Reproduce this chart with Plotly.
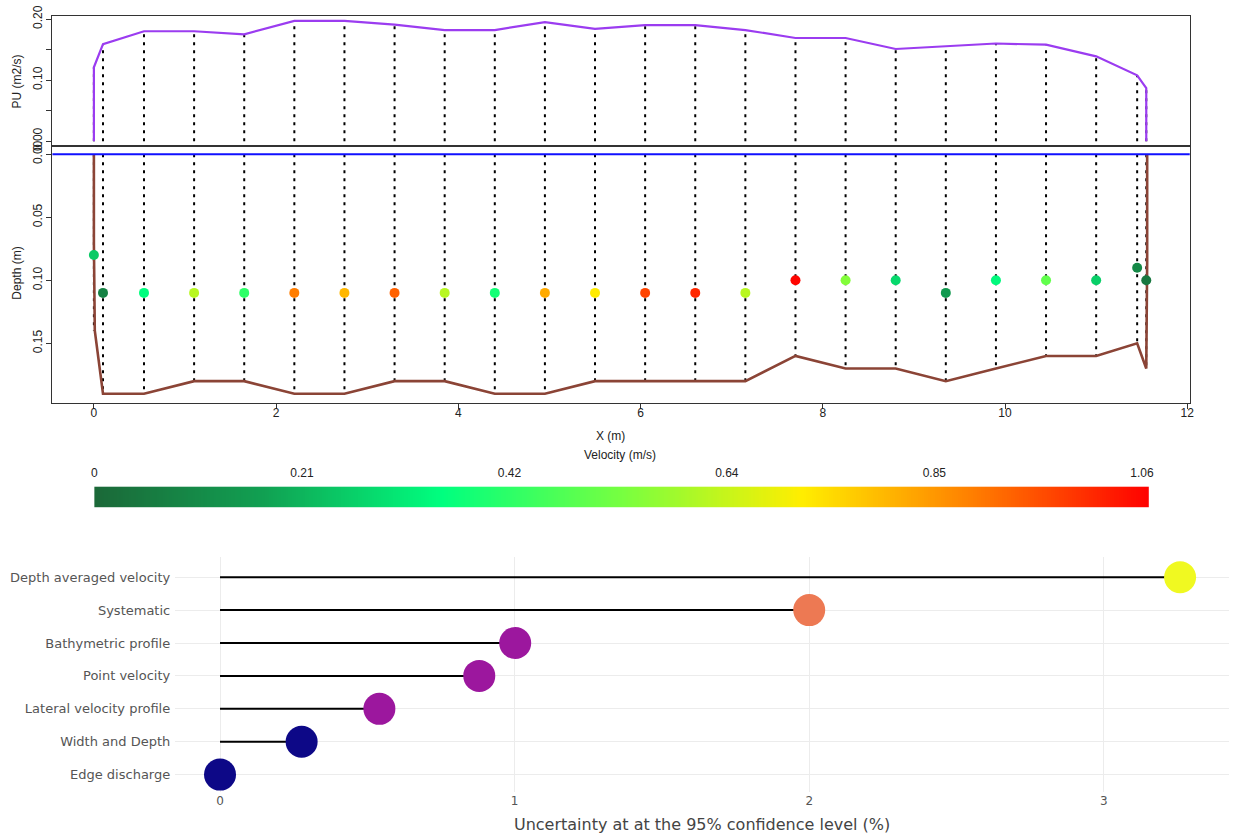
import numpy as np
import plotly.graph_objects as go

# ---------------- data ----------------
station_x = [0.0, 0.10, 0.55, 1.10, 1.65, 2.20, 2.75, 3.30, 3.85, 4.40, 4.95, 5.50,
             6.05, 6.60, 7.15, 7.70, 8.25, 8.80, 9.35, 9.90, 10.45, 11.00, 11.45, 11.55]
station_pu = [0.121, 0.159, 0.180, 0.180, 0.175, 0.197, 0.197, 0.191, 0.182, 0.182, 0.195, 0.184,
              0.190, 0.190, 0.182, 0.169, 0.169, 0.151, 0.156, 0.160, 0.158, 0.139, 0.108, 0.087]
station_depth = [0.14, 0.19, 0.19, 0.18, 0.18, 0.19, 0.19, 0.18, 0.18, 0.19, 0.19, 0.18,
                 0.18, 0.18, 0.18, 0.16, 0.17, 0.17, 0.18, 0.17, 0.16, 0.16, 0.15, 0.17]
vel_depth = [0.08, 0.11, 0.11, 0.11, 0.11, 0.11, 0.11, 0.11, 0.11, 0.11, 0.11, 0.11,
             0.11, 0.11, 0.11, 0.10, 0.10, 0.10, 0.11, 0.10, 0.10, 0.10, 0.09, 0.10]
velocity = [0.25, 0.08, 0.35, 0.62, 0.42, 0.89, 0.80, 0.93, 0.62, 0.38, 0.82, 0.72,
            0.97, 1.01, 0.62, 1.06, 0.55, 0.28, 0.15, 0.34, 0.50, 0.26, 0.10, 0.05]

pu_line_x = [0.0, 0.0, 0.10, 0.55, 1.10, 1.65, 2.20, 2.75, 3.30, 3.85, 4.40, 4.95, 5.50,
             6.05, 6.60, 7.15, 7.70, 8.25, 8.80, 9.35, 9.90, 10.45, 11.00, 11.45, 11.55, 11.55]
pu_line_y = [0.0, 0.121, 0.159, 0.180, 0.180, 0.175, 0.197, 0.197, 0.191, 0.182, 0.182, 0.195, 0.184,
             0.190, 0.190, 0.182, 0.169, 0.169, 0.151, 0.156, 0.160, 0.158, 0.139, 0.108, 0.087, 0.0]

bed_x = [0.0, 0.0, 0.01, 0.10, 0.55, 1.10, 1.65, 2.20, 2.75, 3.30, 3.85, 4.40, 4.95, 5.50,
         6.05, 6.60, 7.15, 7.70, 8.25, 8.80, 9.35, 9.90, 10.45, 11.00, 11.45, 11.55, 11.56, 11.56]
bed_depth = [0.0, 0.07, 0.14, 0.19, 0.19, 0.18, 0.18, 0.19, 0.19, 0.18, 0.18, 0.19, 0.19, 0.18,
             0.18, 0.18, 0.18, 0.16, 0.17, 0.17, 0.18, 0.17, 0.16, 0.16, 0.15, 0.17, 0.085, 0.0]
water_level = 0.0

vel_max = 1.067
vel_ticks = [0, 0.21, 0.42, 0.64, 0.85, 1.06]
vel_ticktext = ["0", "0.21", "0.42", "0.64", "0.85", "1.06"]

unc_categories = ["Edge discharge", "Width and Depth", "Lateral velocity profile",
                  "Point velocity", "Bathymetric profile", "Systematic",
                  "Depth averaged velocity"]
unc_values = [0.0, 0.277, 0.541, 0.88, 1.002, 2.0, 3.259]
unc_colors = ["#0d0887", "#0d0887", "#9c179e", "#9c179e", "#9c179e", "#ed7953", "#f0f921"]

# ---------------- styling helpers ----------------
W, H = 1234, 837
def px_x(p):
    return ((p - 2.5) / 0.995) / W
def px_y(p):
    return 1 - ((p - 10) / 0.98) / H

vel_scale = [[0.0, "#1b6838"], [0.16, "#11a052"], [0.33, "#00ff7f"], [0.5, "#77ff40"],
             [0.67, "#ffee00"], [0.83, "#ff8000"], [1.0, "#ff0000"]]
rfont = dict(family="Liberation Sans, Arial", size=12, color="#222")
pfont = "DejaVu Sans, Verdana, sans-serif"

fig = go.Figure()

# --- PU panel ---
vx, vy = [], []
for x, p in zip(station_x, station_pu):
    vx += [x, x, None]
    vy += [0, p, None]
fig.add_trace(go.Scatter(x=vx, y=vy, mode="lines", xaxis="x", yaxis="y",
                         line=dict(color="black", width=2, dash="3px,5px"),
                         hoverinfo="skip", showlegend=False))
fig.add_trace(go.Scatter(x=pu_line_x, y=pu_line_y, mode="lines", xaxis="x", yaxis="y",
                         line=dict(color="#9b3cf0", width=2.2), showlegend=False))

# --- depth panel ---
dxs, dys = [], []
for x, d in zip(station_x, station_depth):
    dxs += [x, x, None]
    dys += [water_level, d, None]
fig.add_trace(go.Scatter(x=dxs, y=dys, mode="lines", xaxis="x2", yaxis="y2",
                         line=dict(color="black", width=2, dash="3px,5px"),
                         hoverinfo="skip", showlegend=False))
fig.add_trace(go.Scatter(x=bed_x, y=bed_depth, mode="lines", xaxis="x2", yaxis="y2",
                         line=dict(color="#8b4436", width=2.6), showlegend=False))
fig.add_shape(type="line", xref="x2 domain", yref="y2", x0=0, x1=1,
              y0=water_level, y1=water_level, line=dict(color="#1010ff", width=2))
fig.add_trace(go.Scatter(x=station_x, y=vel_depth, mode="markers", xaxis="x2", yaxis="y2",
                         marker=dict(size=10, color=velocity, coloraxis="coloraxis"),
                         showlegend=False))

# --- velocity colour bar (as a one-row heatmap on its own axis) ---
bar_vals = np.linspace(0, vel_max, 500)
fig.add_trace(go.Heatmap(z=[bar_vals], x=bar_vals, y=[0], coloraxis="coloraxis",
                         xaxis="x3", yaxis="y3", hoverinfo="skip"))

# --- uncertainty lollipop ---
lx, ly = [], []
for c, v in zip(unc_categories, unc_values):
    lx += [0, v, None]
    ly += [c, c, None]
fig.add_trace(go.Scatter(x=lx, y=ly, mode="lines", xaxis="x4", yaxis="y4",
                         line=dict(color="black", width=2), showlegend=False))
fig.add_trace(go.Scatter(x=unc_values, y=unc_categories, mode="markers", xaxis="x4", yaxis="y4",
                         marker=dict(size=32, color=unc_colors), showlegend=False))

frame = dict(showline=True, mirror=True, linecolor="#333", linewidth=1,
             showgrid=False, zeroline=False)
top_dom = [px_x(52), px_x(1191)]
fig.update_layout(
    width=W, height=H, margin=dict(l=0, r=0, t=0, b=0),
    paper_bgcolor="white", plot_bgcolor="white",
    font=dict(family=pfont, color="#444", size=13),
    coloraxis=dict(colorscale=vel_scale, cmin=0, cmax=vel_max, showscale=False),
    xaxis=dict(domain=top_dom, anchor="y", range=[-0.455, 12.027], showticklabels=False,
               ticks="", **frame),
    yaxis=dict(domain=[px_y(145), px_y(15)], anchor="x", range=[-0.008, 0.205],
               tickvals=[0, 0.05, 0.10, 0.15, 0.20], ticktext=["0.00", "", "0.10", "", "0.20"],
               tickangle=-90, ticks="outside", ticklen=5, tickcolor="#333", tickfont=rfont, **frame),
    xaxis2=dict(domain=top_dom, anchor="y2", range=[-0.455, 12.027],
                tickvals=[0, 2, 4, 6, 8, 10, 12], ticks="outside", ticklen=5, tickcolor="#333",
                ticklabelstandoff=-7, tickfont=rfont, **frame),
    yaxis2=dict(domain=[px_y(402), px_y(145)], anchor="x2", range=[0.1976, -0.0064],
                tickvals=[0, 0.05, 0.10, 0.15], ticktext=["0.00", "0.05", "0.10", "0.15"],
                tickangle=-90, ticks="outside", ticklen=5, tickcolor="#333", tickfont=rfont, **frame),
    xaxis3=dict(domain=[px_x(94), px_x(1150)], anchor="y3", range=[0, vel_max], side="top",
                tickvals=vel_ticks, ticktext=vel_ticktext, ticks="", showgrid=False,
                zeroline=False, showline=False, ticklabelstandoff=6, tickfont=rfont),
    yaxis3=dict(domain=[px_y(506), px_y(485)], anchor="x3", visible=False),
    xaxis4=dict(domain=[px_x(175), 1.0], anchor="y4", range=[-0.152, 3.425],
                tickvals=[0, 1, 2, 3], showgrid=True, gridcolor="#ececec", zeroline=False,
                showline=False, ticks="", tickfont=dict(size=12, color="#555"),
                title=dict(text="Uncertainty at at the 95% confidence level (%)",
                           font=dict(size=16, color="#444"), standoff=12)),
    yaxis4=dict(domain=[px_y(790), px_y(556)], anchor="x4", type="category",
                categoryorder="array", categoryarray=unc_categories, range=[-0.52, 6.6],
                showgrid=True, gridcolor="#ececec", zeroline=False, showline=False, ticks="",
                ticklabelstandoff=4, tickfont=dict(size=13, color="#555")),
)

ann = [
    dict(text="PU (m2/s)", x=px_x(17), y=px_y(80), textangle=-90),
    dict(text="Depth (m)", x=px_x(17), y=px_y(272), textangle=-90),
    dict(text="X (m)", x=px_x(611), y=px_y(435)),
    dict(text="Velocity (m/s)", x=px_x(620), y=px_y(454)),
]
for a in ann:
    fig.add_annotation(xref="paper", yref="paper", showarrow=False, font=rfont,
                       xanchor="center", yanchor="middle", **a)

fig.write_html("out.html", config={"displayModeBar": False},
               post_script="document.body.style.margin='0px';"
                           "document.body.style.overflow='hidden';"
                           "document.documentElement.style.overflow='hidden';")
